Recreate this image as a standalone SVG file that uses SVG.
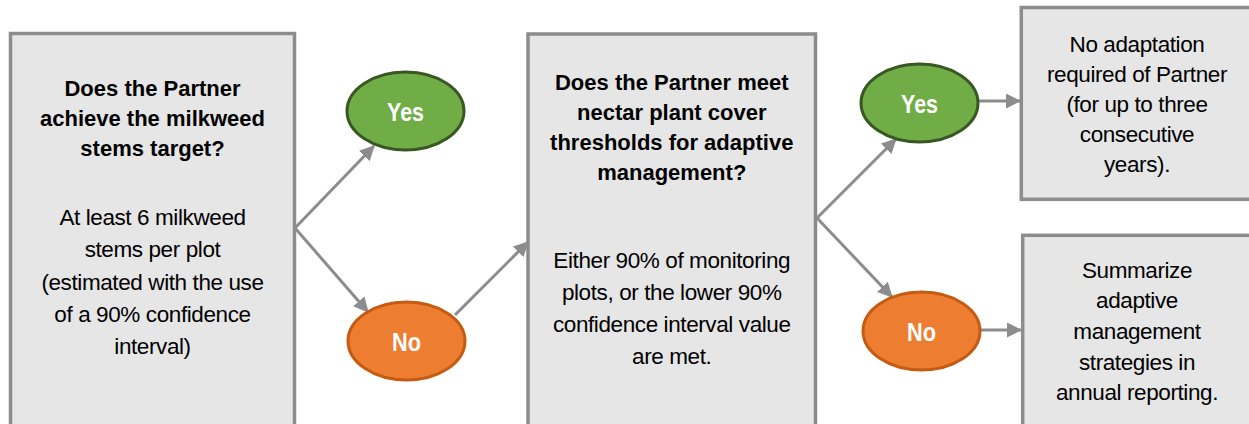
<svg xmlns="http://www.w3.org/2000/svg" width="1249" height="424" viewBox="0 0 1249 424">
  <style>
    .box { fill: #e6e6e6; stroke: #8c8c8c; stroke-width: 3.5; }
    .yes { fill: #70ad47; stroke: #385723; stroke-width: 3; }
    .no { fill: #ed7d31; stroke: #c55a11; stroke-width: 3; }
    .head { font-family: "Liberation Sans", Arial, sans-serif; font-weight: bold; font-size: 22px; fill: #000; text-anchor: middle; }
    .body { font-family: "Liberation Sans", Arial, sans-serif; font-size: 22.5px; letter-spacing: -0.4px; fill: #000; text-anchor: middle; }
    .lbl { font-family: "Liberation Sans", Arial, sans-serif; font-weight: bold; font-size: 26px; fill: #fff; text-anchor: middle; }
    .conn { fill: none; stroke: #8c8c8c; stroke-width: 3; marker-end: url(#arrow); }
  </style>
  <defs>
    <marker id="arrow" markerUnits="userSpaceOnUse" markerWidth="15" markerHeight="15" refX="14" refY="7.5" orient="auto">
      <path d="M0,0 L15,7.5 L0,15 z" fill="#8c8c8c"/>
    </marker>
  </defs>

  <rect width="1249" height="424" fill="#ffffff"/>

  <!-- connectors -->
  <g id="connectors">
    <path class="conn" d="M295,228 L374,146"/>
    <path class="conn" d="M295,228 L368,312"/>
    <path class="conn" d="M455,315 L528,242"/>
    <path class="conn" d="M817,218 L896,139"/>
    <path class="conn" d="M817,218 L892,297"/>
    <path class="conn" d="M978,101 L1020,101"/>
    <path class="conn" d="M981,330 L1021,330"/>
  </g>

  <!-- question 1 -->
  <g id="q-milkweed">
    <rect class="box" x="10.5" y="33.5" width="284" height="400"/>
    <text class="head" x="152.5" y="96">Does the Partner</text>
    <text class="head" x="152.5" y="126">achieve the milkweed</text>
    <text class="head" x="152.5" y="156">stems target?</text>
    <text class="body" x="152.5" y="225">At least 6 milkweed</text>
    <text class="body" x="152.5" y="257">stems per plot</text>
    <text class="body" x="152.5" y="290">(estimated with the use</text>
    <text class="body" x="152.5" y="322">of a 90% confidence</text>
    <text class="body" x="152.5" y="354">interval)</text>
  </g>

  <g id="yes-1">
    <ellipse class="yes" cx="405.5" cy="111" rx="58.5" ry="39"/>
    <text class="lbl" x="405.5" y="120.5" textLength="37" lengthAdjust="spacingAndGlyphs">Yes</text>
  </g>

  <g id="no-1">
    <ellipse class="no" cx="406.5" cy="341" rx="58.5" ry="39"/>
    <text class="lbl" x="406.5" y="350.5" textLength="29" lengthAdjust="spacingAndGlyphs">No</text>
  </g>

  <!-- question 2 -->
  <g id="q-nectar">
    <rect class="box" x="528" y="34" width="287.5" height="400"/>
    <text class="head" x="671.75" y="90">Does the Partner meet</text>
    <text class="head" x="671.75" y="120">nectar plant cover</text>
    <text class="head" x="671.75" y="150">thresholds for adaptive</text>
    <text class="head" x="671.75" y="180">management?</text>
    <text class="body" x="671.75" y="268">Either 90% of monitoring</text>
    <text class="body" x="671.75" y="300">plots, or the lower 90%</text>
    <text class="body" x="671.75" y="332">confidence interval value</text>
    <text class="body" x="671.75" y="364">are met.</text>
  </g>

  <g id="yes-2">
    <ellipse class="yes" cx="919.5" cy="103" rx="58.5" ry="39"/>
    <text class="lbl" x="919.5" y="112.5" textLength="37" lengthAdjust="spacingAndGlyphs">Yes</text>
  </g>

  <g id="no-2">
    <ellipse class="no" cx="921.5" cy="331" rx="58.5" ry="39"/>
    <text class="lbl" x="921.5" y="340.5" textLength="29" lengthAdjust="spacingAndGlyphs">No</text>
  </g>

  <!-- outcomes -->
  <g id="outcome-none">
    <rect class="box" x="1021.3" y="7.5" width="240" height="191.8"/>
    <text class="body" x="1137" y="52">No adaptation</text>
    <text class="body" x="1137" y="82">required of Partner</text>
    <text class="body" x="1137" y="112">(for up to three</text>
    <text class="body" x="1137" y="142">consecutive</text>
    <text class="body" x="1137" y="172">years).</text>
  </g>

  <g id="outcome-adapt">
    <rect class="box" x="1022.7" y="235.3" width="240" height="200"/>
    <text class="body" x="1137" y="278">Summarize</text>
    <text class="body" x="1137" y="308">adaptive</text>
    <text class="body" x="1137" y="339">management</text>
    <text class="body" x="1137" y="370">strategies in</text>
    <text class="body" x="1137" y="400">annual reporting.</text>
  </g>
</svg>
